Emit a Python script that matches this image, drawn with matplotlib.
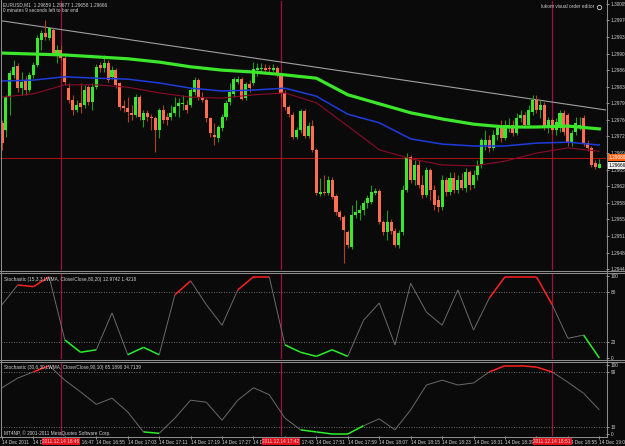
import numpy as np
import matplotlib
matplotlib.use("Agg")
import matplotlib.pyplot as plt
from matplotlib import font_manager
from matplotlib.lines import Line2D
from matplotlib.collections import LineCollection
from matplotlib.ticker import FormatStrFormatter

W, H = 625, 446
BASE = 1.29  # prices below are in points above 1.29000 (1 point = 0.00001)

## EURUSD M1 bars, 14 Dec 2011 from 16:31 to 19:03
opens = [753, 739, 808, 855, 874, 827, 844, 823, 855, 876,
         929, 943, 933, 950, 897, 908, 891, 827, 802, 781,
         796, 791, 829, 798, 829, 876, 870, 880, 851, 865,
         838, 789, 785, 775, 770, 808, 760, 775, 766, 764,
         739, 781, 766, 766, 775, 789, 794, 791, 791, 819,
         844, 808, 802, 764, 728, 722, 743, 766, 798, 815,
         840, 846, 806, 836, 838, 865, 867, 870, 870, 865,
         870, 855, 817, 787, 770, 724, 739, 779, 726, 747,
         697, 604, 608, 606, 633, 599, 566, 555, 524, 492,
         559, 564, 570, 585, 587, 606, 610, 545, 524, 545,
         526, 496, 524, 612, 682, 633, 665, 623, 602, 654,
         612, 591, 576, 633, 608, 637, 612, 633, 616, 650,
         623, 644, 665, 707, 718, 701, 728, 743, 722, 743,
         749, 732, 764, 770, 749, 777, 802, 781, 791, 743,
         760, 739, 743, 775, 770, 711, 734, 745, 764, 711,
         701, 669, 659]
highs = [760, 813, 865, 886, 880, 861, 853, 861, 882, 939,
         950, 971, 956, 954, 918, 918, 895, 838, 813, 802,
         838, 834, 834, 838, 878, 882, 897, 886, 874, 870,
         840, 802, 808, 791, 815, 813, 781, 781, 772, 768,
         785, 791, 775, 791, 808, 806, 813, 802, 827, 851,
         848, 819, 806, 766, 753, 749, 772, 802, 838, 851,
         853, 851, 840, 844, 882, 880, 880, 878, 876, 878,
         874, 859, 823, 791, 777, 745, 783, 783, 756, 760,
         701, 637, 644, 642, 640, 604, 570, 559, 528, 580,
         591, 580, 591, 602, 623, 616, 614, 549, 570, 551,
         532, 528, 623, 690, 686, 675, 675, 644, 661, 659,
         623, 602, 644, 640, 650, 650, 644, 648, 659, 654,
         654, 675, 722, 739, 728, 739, 749, 760, 760, 764,
         760, 775, 781, 777, 791, 813, 813, 802, 798, 766,
         764, 764, 781, 781, 775, 739, 766, 766, 770, 718,
         705, 675, 677]
lows = [697, 724, 770, 848, 819, 813, 813, 819, 848, 872,
        908, 929, 929, 897, 880, 886, 834, 796, 770, 777,
        775, 785, 791, 781, 825, 861, 861, 840, 846, 827,
        781, 777, 756, 760, 766, 760, 745, 758, 739, 692,
        722, 753, 749, 760, 768, 766, 781, 775, 787, 813,
        802, 798, 756, 724, 707, 713, 737, 760, 791, 808,
        836, 802, 802, 819, 834, 853, 859, 857, 859, 861,
        851, 808, 781, 766, 720, 720, 732, 722, 722, 692,
        602, 599, 602, 602, 593, 559, 549, 458, 490, 488,
        553, 549, 559, 574, 583, 602, 540, 517, 507, 519,
        492, 490, 517, 608, 627, 623, 616, 595, 597, 591,
        570, 566, 570, 599, 602, 606, 606, 612, 608, 612,
        616, 633, 659, 697, 692, 697, 718, 713, 718, 734,
        726, 728, 756, 743, 743, 770, 775, 764, 739, 732,
        730, 728, 734, 728, 705, 705, 728, 739, 705, 694,
        661, 656, 658]
closes = [711, 808, 859, 872, 827, 840, 823, 855, 876, 933,
          943, 935, 954, 901, 908, 891, 840, 802, 781, 791,
          787, 823, 798, 829, 872, 870, 880, 844, 865, 834,
          787, 785, 777, 770, 808, 766, 775, 766, 764, 739,
          781, 760, 760, 775, 787, 796, 796, 781, 823, 844,
          808, 802, 764, 732, 724, 745, 766, 796, 819, 846,
          846, 804, 836, 827, 867, 870, 870, 865, 867, 870,
          857, 817, 787, 772, 724, 739, 779, 726, 747, 697,
          606, 608, 606, 633, 597, 566, 555, 528, 496, 559,
          566, 570, 585, 595, 608, 610, 545, 524, 545, 526,
          496, 521, 612, 682, 633, 665, 623, 602, 654, 612,
          580, 576, 633, 608, 637, 612, 633, 616, 650, 623,
          644, 665, 718, 718, 701, 728, 743, 722, 749, 749,
          732, 764, 770, 749, 781, 802, 781, 791, 743, 760,
          739, 756, 775, 734, 711, 732, 753, 749, 711, 701,
          665, 661, 666]

## moving averages read every 8 bars
ma_idx = list(range(0, 153, 8))
ma_green = [901, 899, 897, 893, 889, 882, 872, 865, 861, 855,
            848, 813, 794, 775, 762, 751, 745, 745, 747, 741]
ma_blue = [842, 844, 851, 848, 846, 838, 827, 821, 823, 827,
           810, 772, 754, 720, 709, 705, 705, 711, 713, 707]
ma_red = [808, 815, 834, 834, 829, 817, 808, 806, 813, 817,
          796, 747, 697, 678, 665, 663, 673, 690, 701, 694]

trend_idx = [0, 152]
trend_val = [969, 783]
ask_line = 680
bid_last = 666

## stochastics read every 4 bars
st_idx = list(range(0, 153, 4))
stoch1 = [65, 89, 87, 99, 22, 7, 10, 55, 4, 13, 4, 77, 94, 65, 40, 83, 99, 99, 16, 7,
          2, 10, 2, 46, 67, 16, 91, 56, 40, 83, 34, 73, 99, 99, 99, 65, 24, 28, 0]
stoch2 = [67, 81, 90, 99, 78, 61, 43, 52, 32, 3, 1, 23, 49, 46, 20, 49, 67, 57, 23, 6,
          3, 0, 0, 12, 22, 6, 35, 71, 78, 71, 74, 90, 99, 99, 97, 90, 75, 59, 35]

time_idx = list(range(0, 153, 8))
time_labels = ["14 Dec 2011", "14 Dec 16:39", "14 Dec 16:47", "14 Dec 16:55", "14 Dec 17:03",
               "14 Dec 17:11", "14 Dec 17:19", "14 Dec 17:27", "14 Dec 17:35", "14 Dec 17:43",
               "14 Dec 17:51", "14 Dec 17:59", "14 Dec 18:07", "14 Dec 18:15", "14 Dec 18:23",
               "14 Dec 18:31", "14 Dec 18:39", "14 Dec 18:47", "14 Dec 18:55", "14 Dec 19:03"]
marker_idx = [15, 71, 140]
marker_labels = ["2011.12.14 16:46", "2011.12.14 17:42", "2011.12.14 18:51"]


def rect(x0, y0, x1, y1):
    return [x0 / W, 1 - y1 / H, (x1 - x0) / W, (y1 - y0) / H]


def hline(y, x0=0, x1=W, color="#8c8c8c"):
    fig.add_artist(Line2D([x0 / W, x1 / W], [1 - y / H, 1 - y / H], color=color, lw=0.75))


def vline(x, y0=0, y1=H, color="#8c8c8c"):
    fig.add_artist(Line2D([x / W, x / W], [1 - y0 / H, 1 - y1 / H], color=color, lw=0.75))


try:
    font_manager.findfont(font_manager.FontProperties(family="Liberation Sans Narrow"),
                          fallback_to_default=False)
    FONT, FS = "Liberation Sans Narrow", 4.0
except ValueError:
    FONT, FS = "Liberation Sans", 3.4
plt.rcParams["font.family"] = [FONT, "DejaVu Sans"]

bg = "#0a0a0a"
txt = "#d0d0d0"
fig = plt.figure(figsize=(W / 100, H / 100), dpi=100, facecolor=bg)

ax = fig.add_axes(rect(1, 1, 606, 270))
ax1 = fig.add_axes(rect(1, 274, 606, 359))
ax2 = fig.add_axes(rect(1, 363, 606, 436))
for a in (ax, ax1, ax2):
    a.set_facecolor(bg)
    a.set_xlim(-0.25, 153.7)
    for sp in a.spines.values():
        sp.set_visible(False)
    a.yaxis.tick_right()
    a.tick_params(axis="y", colors=txt, labelsize=FS, length=2, width=0.5, pad=1.5)
    a.tick_params(axis="x", bottom=False, labelbottom=False)
    for i in marker_idx:
        a.axvline(i, color="#a0103c", lw=0.9, zorder=1)

## candles
o = BASE + np.array(opens) / 1e5
h = BASE + np.array(highs) / 1e5
l = BASE + np.array(lows) / 1e5
c = BASE + np.array(closes) / 1e5
x = np.arange(len(c))
up = c >= o
body = np.maximum(np.abs(c - o), 0.00002)
bot = np.minimum(o, c)
ax.vlines(x[up], l[up], h[up], color="#1f9a1f", lw=0.8, zorder=3)
ax.vlines(x[~up], l[~up], h[~up], color="#b0401e", lw=0.8, zorder=3)
ax.bar(x[up], body[up], bottom=bot[up], width=0.78, color="#3ce62a", lw=0, zorder=4)
ax.bar(x[~up], body[~up], bottom=bot[~up], width=0.78, color="#ff6e50", lw=0, zorder=4)

ax.plot(ma_idx, BASE + np.array(ma_green) / 1e5, color="#3ce62a", lw=2.3, zorder=5)
ax.plot(ma_idx, BASE + np.array(ma_blue) / 1e5, color="#1e3cdc", lw=1.1, zorder=5)
ax.plot(ma_idx, BASE + np.array(ma_red) / 1e5, color="#8c0a2a", lw=0.8, zorder=5)
ax.axline((trend_idx[0], BASE + trend_val[0] / 1e5), (trend_idx[1], BASE + trend_val[1] / 1e5),
          color="#a0a0a0", lw=0.8, zorder=2)
ax.axhline(BASE + ask_line / 1e5, color="#a01414", lw=0.8, zorder=2)

ax.set_ylim(BASE + 443.3 / 1e5, BASE + 1010.9 / 1e5)
ax.set_yticks(BASE + np.arange(445, 1006, 35) / 1e5)
ax.yaxis.set_major_formatter(FormatStrFormatter("%.5f"))

ytr = ax.get_yaxis_transform()
ax.text(1.004, BASE + ask_line / 1e5, "%.5f" % (BASE + ask_line / 1e5), transform=ytr, fontsize=FS,
        color="white", va="center", ha="left", clip_on=False, zorder=10,
        bbox=dict(boxstyle="square,pad=0.2", fc="#ff6418", ec="none"))
ax.text(1.004, BASE + bid_last / 1e5 - 0.00002, "%.5f" % (BASE + bid_last / 1e5), transform=ytr,
        fontsize=FS, color="black", va="center", ha="left", clip_on=False, zorder=10,
        bbox=dict(boxstyle="square,pad=0.2", fc="#f0f0f0", ec="none"))


## stochastics, coloured above/below the levels
def stoch_lines(a, vals, hi, lo):
    xs = np.array(st_idx)
    v = np.array(vals, dtype=float)
    segs = [[(xs[k], v[k]), (xs[k + 1], v[k + 1])] for k in range(len(v) - 1)]
    mids = (v[:-1] + v[1:]) / 2
    cols = ["#ff2020" if m > hi else "#28f028" if m < lo else "#6a6a6a" for m in mids]
    lws = [0.7 if col == "#6a6a6a" else 1.1 for col in cols]
    a.add_collection(LineCollection(segs, colors=cols, linewidths=lws, zorder=3))
    for lev in (lo, hi):
        a.axhline(lev, color="#8a8a8a", lw=0.6, ls=(0, (1, 2)), zorder=2)


stoch_lines(ax1, stoch1, 80, 20)
ax1.set_ylim(-1.2, 102.4)
ax1.set_yticks([0, 20, 80, 100])
stoch_lines(ax2, stoch2, 90, 10)
ax2.set_ylim(-2.9, 102.9)
ax2.set_yticks([0, 10, 90, 100])

ax1.text(0.005, 0.935, "Stochastic (15,3,3,LWMA, Close/Close,80,20) 12.9742 1.4218",
         transform=ax1.transAxes, fontsize=FS, color=txt, va="center")
ax2.text(0.005, 0.935, "Stochastic (30,6,30,LWMA, Close/Close,90,10) 65.1890 34.7139",
         transform=ax2.transAxes, fontsize=FS, color=txt, va="center")
ax2.text(0.005, 0.04, "MT4NP, \u00a9 2001-2011 MetaQuotes Software Corp.",
         transform=ax2.transAxes, fontsize=FS, color=txt, va="center")

## time axis
ax2.tick_params(axis="x", bottom=True, labelbottom=True, length=2, width=0.5,
                pad=1.2, labelsize=FS, colors=txt)
ax2.set_xticks(time_idx)
ax2.set_xticklabels(time_labels)
for lab in ax2.get_xticklabels():
    lab.set_horizontalalignment("left")
xtr = ax2.get_xaxis_transform()
for i, s in zip(marker_idx, marker_labels):
    ax2.text(i, -0.075, s, transform=xtr, fontsize=FS, color="#ffd0d0", ha="center", va="center",
             clip_on=False, zorder=10, bbox=dict(boxstyle="square,pad=0.15", fc="#e0141e", ec="none"))

## header texts
fig.text(3 / W, 1 - 5 / H, "EURUSD,M1  1.29659 1.29677 1.29658 1.29666",
         fontsize=FS, color=txt, va="center")
fig.text(3 / W, 1 - 11 / H, "0 minutes 9 seconds left to bar end",
         fontsize=FS, color=txt, va="center")
fig.text(594 / W, 1 - 7 / H, "lukom visual order editor", fontsize=FS, color=txt,
         va="center", ha="right")
ax.plot([0.988], [0.978], marker="o", ms=3.2, mfc="none", mec=txt, mew=0.6,
        transform=ax.transAxes, clip_on=False)

## panel frames
for yy in (271, 273, 360, 362):
    hline(yy)
hline(436.5, 0, 606)
vline(606.5, 0, 437)
vline(1, 0, 437)

fig.savefig("out.png", dpi=100, facecolor=bg)
